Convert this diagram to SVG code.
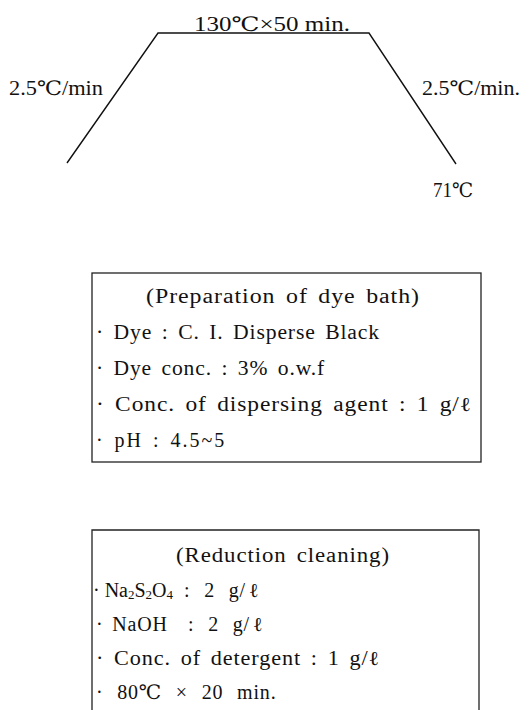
<svg xmlns="http://www.w3.org/2000/svg" width="529" height="710" viewBox="0 0 529 710">
<style>
  text { font-family: "Liberation Serif", "DejaVu Serif", "Noto Sans CJK KR", serif; font-size: 20px; fill: #111; }
  .bt { word-spacing: 3px; letter-spacing: 0.8px; }
  .ws { word-spacing: 8px; }
  .ln { fill: none; stroke: #111; stroke-width: 1.4; }
  .bx { fill: none; stroke: #222; stroke-width: 1.3; }
  .sub { font-size: 13px; }
</style>
<rect width="529" height="710" fill="#fff"/>
<g id="profile">
  <polyline class="ln" points="67,163 158,33 369,33 456,164"/>
  <text x="194" y="31" textLength="156" lengthAdjust="spacingAndGlyphs">130℃×50  min.</text>
  <text x="9" y="95" textLength="94" lengthAdjust="spacingAndGlyphs">2.5℃/min</text>
  <text x="422" y="95" textLength="98" lengthAdjust="spacingAndGlyphs">2.5℃/min.</text>
  <text x="433" y="197" textLength="40" lengthAdjust="spacingAndGlyphs">71℃</text>
</g>
<g id="box-dyebath">
  <rect class="bx" x="92" y="273" width="389" height="189"/>
  <text class="bt" x="146" y="303" textLength="274" lengthAdjust="spacingAndGlyphs">(Preparation of dye bath)</text>
  <text class="bt" x="96" y="339" textLength="284" lengthAdjust="spacingAndGlyphs">· Dye : C. I. Disperse Black</text>
  <text class="bt" x="96" y="375" textLength="229" lengthAdjust="spacingAndGlyphs">· Dye conc. : 3% o.w.f</text>
  <text class="bt" x="96" y="411" textLength="376" lengthAdjust="spacingAndGlyphs">· Conc. of dispersing agent : 1 g/ℓ</text>
  <text class="bt" x="96" y="447" textLength="129" lengthAdjust="spacing">· pH : 4.5~5</text>
</g>
<g id="box-reduction">
  <path class="bx" d="M92,710 V530 H479 V710"/>
  <text class="bt" x="176" y="562" textLength="214" lengthAdjust="spacingAndGlyphs">(Reduction cleaning)</text>
  <text x="93" y="597" font-size="19">· Na<tspan class="sub" dy="2">2</tspan><tspan dy="-2">S</tspan><tspan class="sub" dy="2">2</tspan><tspan dy="-2">O</tspan><tspan class="sub" dy="2">4</tspan></text>
  <text class="bt ws" x="184" y="597">: 2 g/<tspan dx="3">ℓ</tspan></text>
  <text class="bt" x="96" y="631">· NaOH</text>
  <text class="bt ws" x="188" y="631">: 2 g/<tspan dx="3">ℓ</tspan></text>
  <text class="bt" x="96" y="665" textLength="284" lengthAdjust="spacingAndGlyphs">· Conc. of detergent : 1 g/ℓ</text>
  <text class="bt ws" x="96" y="699">· 80℃ × 20 min.</text>
</g>
</svg>
